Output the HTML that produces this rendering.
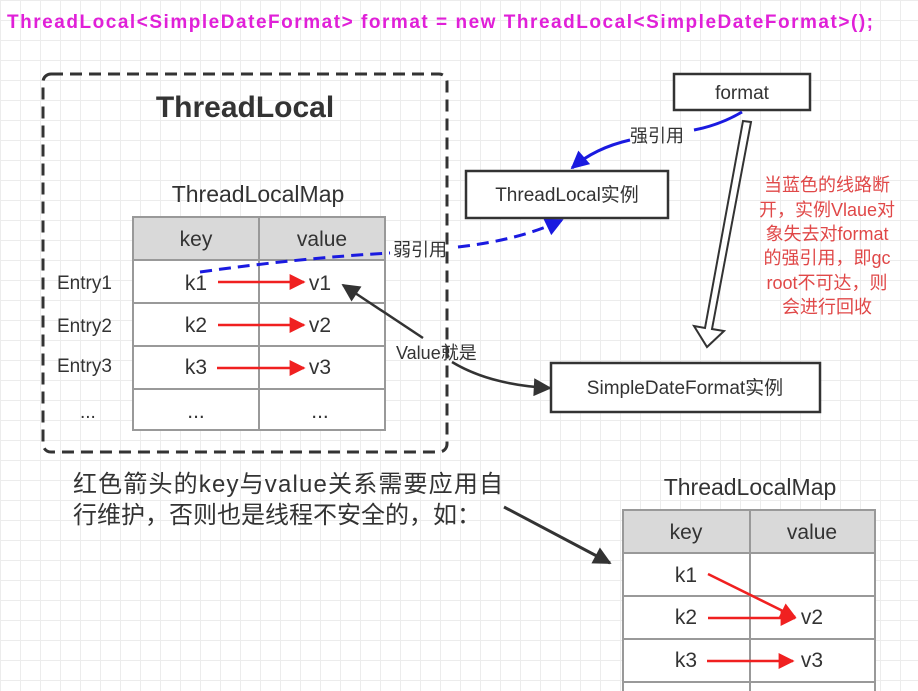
<!DOCTYPE html>
<html><head><meta charset="utf-8"><style>
html,body{margin:0;padding:0}
body{width:918px;height:691px;overflow:hidden;background-color:#fff;
background-image:linear-gradient(#ececec 1px,transparent 1px),linear-gradient(90deg,#ececec 1px,transparent 1px);background-size:20px 20px;}
svg{position:absolute;left:0;top:0}
text{font-family:"Liberation Sans","Noto Sans CJK SC",sans-serif;}
</style></head><body>
<svg width="918" height="691" viewBox="0 0 918 691">
<defs>
<marker id="rb" viewBox="0 0 10 10" markerWidth="24" markerHeight="16" refX="9" refY="5" orient="auto" markerUnits="userSpaceOnUse"><path d="M0,0 L10,5 L0,10z" fill="#f02020"/></marker>
<marker id="bb" viewBox="0 0 10 10" markerWidth="20" markerHeight="18" refX="9" refY="5" orient="auto" markerUnits="userSpaceOnUse"><path d="M0,0 L10,5 L0,10z" fill="#1a1ae0"/></marker>
<marker id="kb" viewBox="0 0 10 10" markerWidth="22" markerHeight="18" refX="9" refY="5" orient="auto" markerUnits="userSpaceOnUse"><path d="M0,0 L10,5 L0,10z" fill="#333"/></marker>
</defs>
<text x="7" y="28" font-size="19" font-weight="bold" fill="#e020d8" textLength="866" lengthAdjust="spacing">ThreadLocal&lt;SimpleDateFormat&gt; format = new ThreadLocal&lt;SimpleDateFormat&gt;();</text>
<rect x="43" y="74" width="404" height="378" rx="8" fill="none" stroke="#333" stroke-width="3" stroke-dasharray="12,7"/>
<text x="245" y="117" font-size="30" font-weight="bold" fill="#333" text-anchor="middle">ThreadLocal</text>
<text x="258" y="202" font-size="23" fill="#333" text-anchor="middle">ThreadLocalMap</text>
<g stroke="#999" stroke-width="2">
<rect x="133" y="217" width="252" height="43" fill="#d9d9d9"/>
<rect x="133" y="260" width="252" height="170" fill="#fff"/>
<line x1="259" y1="217" x2="259" y2="430"/>
<line x1="133" y1="303" x2="385" y2="303"/><line x1="133" y1="346" x2="385" y2="346"/><line x1="133" y1="389" x2="385" y2="389"/>
</g>
<g font-size="21" fill="#333" text-anchor="middle">
<text x="196" y="246">key</text><text x="322" y="246">value</text>
<text x="196" y="290">k1</text><text x="320" y="290">v1</text>
<text x="196" y="332">k2</text><text x="320" y="332">v2</text>
<text x="196" y="374">k3</text><text x="320" y="374">v3</text>
<text x="196" y="418">...</text><text x="320" y="418">...</text>
</g>
<g font-size="19" fill="#333">
<text x="57" y="289">Entry1</text><text x="57" y="332">Entry2</text><text x="57" y="372">Entry3</text><text x="80" y="418">...</text>
</g>
<g stroke="#f02020" stroke-width="2.5">
<line x1="218" y1="282" x2="304" y2="282" marker-end="url(#rb)"/>
<line x1="218" y1="325" x2="304" y2="325" marker-end="url(#rb)"/>
<line x1="217" y1="368" x2="304" y2="368" marker-end="url(#rb)"/>
</g>
<path d="M200,272 Q300,258 390,253" fill="none" stroke="#1a1ae0" stroke-width="3" stroke-dasharray="12,7"/>
<path d="M458,247 Q520,240 562,220" fill="none" stroke="#1a1ae0" stroke-width="3" stroke-dasharray="12,7" marker-end="url(#bb)"/>
<text x="393" y="256" font-size="18" fill="#333">弱引用</text>
<rect x="466" y="171" width="202" height="47" fill="#fff" stroke="#333" stroke-width="2.5"/>
<text x="567" y="201" font-size="19" fill="#333" text-anchor="middle">ThreadLocal实例</text>
<rect x="674" y="74" width="136" height="36" fill="#fff" stroke="#333" stroke-width="2.5"/>
<text x="742" y="99" font-size="19" fill="#333" text-anchor="middle">format</text>
<path d="M742,112 Q720,125 694,130" fill="none" stroke="#1a1ae0" stroke-width="3"/>
<path d="M630,140 Q595,148 572,168" fill="none" stroke="#1a1ae0" stroke-width="3" marker-end="url(#bb)"/>
<text x="630" y="142" font-size="18" fill="#333">强引用</text>
<path d="M743,121 L751,122 L712,329 L724,331 L707,347 L694,326 L705,328 Z" fill="#fff" stroke="#333" stroke-width="2"/>
<g font-size="18" fill="#e04848" text-anchor="middle">
<text x="827" y="191">当蓝色的线路断</text>
<text x="827" y="216">开，实例Vlaue对</text>
<text x="827" y="240">象失去对format</text>
<text x="827" y="264">的强引用，即gc</text>
<text x="827" y="289">root不可达，则</text>
<text x="827" y="313">会进行回收</text>
</g>
<rect x="551" y="363" width="269" height="49" fill="#fff" stroke="#333" stroke-width="2.5"/>
<text x="685" y="394" font-size="19" fill="#333" text-anchor="middle">SimpleDateFormat实例</text>
<text x="396" y="359" font-size="18" fill="#333">Value就是</text>
<line x1="423" y1="338" x2="343" y2="285" stroke="#333" stroke-width="2.5" marker-end="url(#kb)"/>
<path d="M452,362 Q490,385 550,388" fill="none" stroke="#333" stroke-width="2.5" marker-end="url(#kb)"/>
<text x="73" y="492" font-size="24" fill="#333" textLength="430" lengthAdjust="spacing">红色箭头的key与value关系需要应用自</text>
<text x="73" y="523" font-size="24" fill="#333">行维护，否则也是线程不安全的，如：</text>
<line x1="504" y1="507" x2="610" y2="563" stroke="#333" stroke-width="3" marker-end="url(#kb)"/>
<text x="750" y="495" font-size="23" fill="#333" text-anchor="middle">ThreadLocalMap</text>
<g stroke="#999" stroke-width="2">
<rect x="623" y="510" width="252" height="43" fill="#d9d9d9"/>
<rect x="623" y="553" width="252" height="140" fill="#fff"/>
<line x1="750" y1="510" x2="750" y2="691"/>
<line x1="623" y1="596" x2="875" y2="596"/><line x1="623" y1="639" x2="875" y2="639"/><line x1="623" y1="682" x2="875" y2="682"/>
</g>
<g font-size="21" fill="#333" text-anchor="middle">
<text x="686" y="539">key</text><text x="812" y="539">value</text>
<text x="686" y="582">k1</text>
<text x="686" y="624">k2</text><text x="812" y="624">v2</text>
<text x="686" y="667">k3</text><text x="812" y="667">v3</text>
</g>
<g stroke="#f02020" stroke-width="2.5">
<line x1="708" y1="574" x2="795" y2="617" marker-end="url(#rb)"/>
<line x1="708" y1="618" x2="795" y2="618" marker-end="url(#rb)"/>
<line x1="707" y1="661" x2="793" y2="661" marker-end="url(#rb)"/>
</g>
</svg>
</body></html>
